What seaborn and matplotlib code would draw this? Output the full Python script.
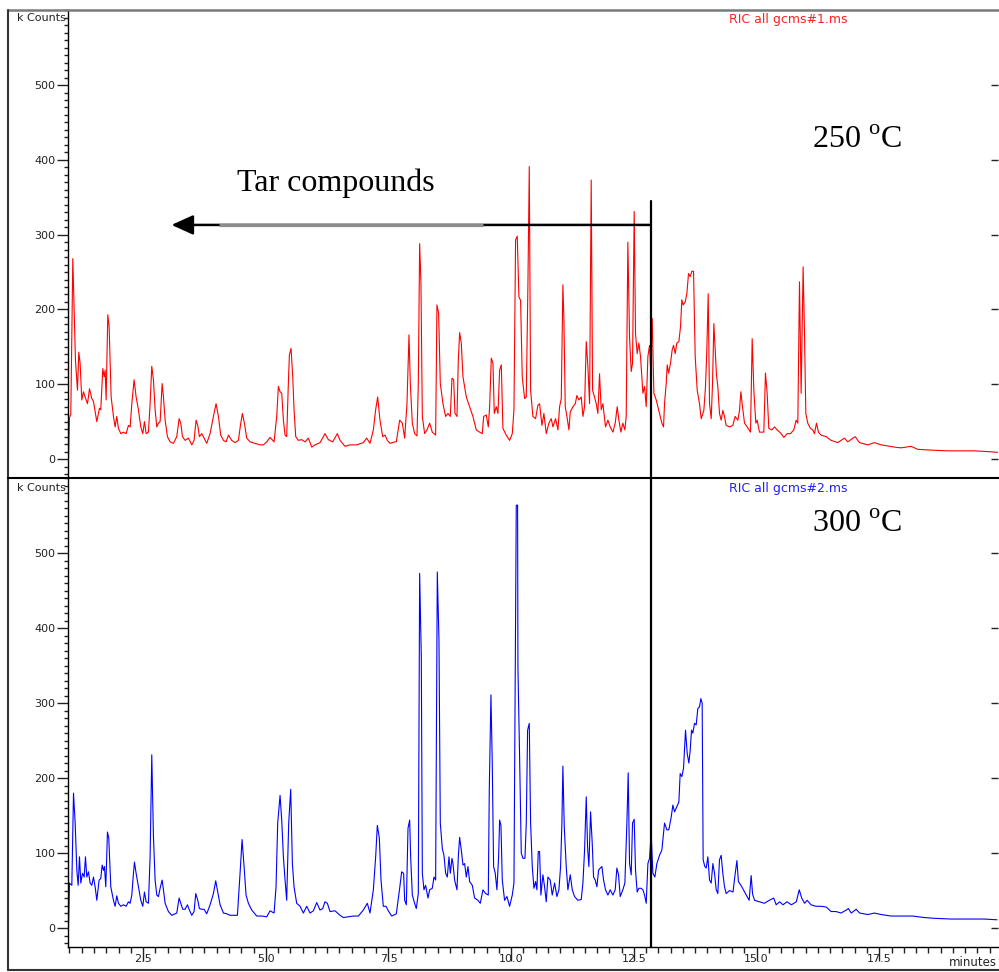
import matplotlib
matplotlib.use("Agg")
import matplotlib.pyplot as plt
import seaborn as sns
import pandas as pd
from matplotlib.ticker import MultipleLocator, FixedLocator, FormatStrFormatter
from matplotlib.lines import Line2D

# ---------------- data (minutes, kCounts) ----------------
t250 = [0.98, 1.00, 1.027, 1.068, 1.095, 1.122, 1.163, 1.190, 1.217, 1.251, 1.285, 1.319, 1.367, 1.408,
        1.455, 1.489, 1.557, 1.611, 1.638, 1.679, 1.706, 1.727, 1.747, 1.781, 1.808, 1.849, 1.896,
        1.930, 1.964, 1.998, 2.046, 2.100, 2.154, 2.202, 2.236, 2.270, 2.317, 2.358, 2.405, 2.453,
        2.494, 2.528, 2.562, 2.609, 2.643, 2.677, 2.711, 2.745, 2.779, 2.813, 2.847, 2.888, 2.915,
        2.949, 2.996, 3.050, 3.118, 3.186, 3.234, 3.268, 3.302, 3.356, 3.424, 3.492, 3.539, 3.580,
        3.614, 3.648, 3.695, 3.743, 3.797, 3.865, 3.933, 3.987, 4.035, 4.082, 4.137, 4.191, 4.239,
        4.306, 4.374, 4.442, 4.490, 4.524, 4.564, 4.612, 4.680, 4.782, 4.883, 4.951, 5.019, 5.087,
        5.169, 5.223, 5.257, 5.291, 5.325, 5.359, 5.393, 5.426, 5.460, 5.481, 5.515, 5.549, 5.576,
        5.610, 5.664, 5.732, 5.800, 5.868, 5.936, 6.004, 6.105, 6.207, 6.275, 6.363, 6.458, 6.513,
        6.615, 6.716, 6.852, 6.988, 7.056, 7.124, 7.192, 7.239, 7.280, 7.327, 7.382, 7.429, 7.477,
        7.531, 7.633, 7.660, 7.728, 7.782, 7.830, 7.877, 7.918, 7.945, 7.986, 8.033, 8.081, 8.108,
        8.135, 8.162, 8.190, 8.237, 8.285, 8.339, 8.393, 8.461, 8.488, 8.522, 8.556, 8.610, 8.665,
        8.712, 8.760, 8.794, 8.828, 8.855, 8.896, 8.923, 8.950, 8.984, 9.018, 9.086, 9.154, 9.221,
        9.289, 9.357, 9.412, 9.439, 9.493, 9.534, 9.561, 9.595, 9.629, 9.656, 9.697, 9.731, 9.765,
        9.799, 9.832, 9.900, 9.968, 10.023, 10.057, 10.090, 10.124, 10.158, 10.192, 10.226, 10.274,
        10.308, 10.342, 10.369, 10.396, 10.443, 10.498, 10.545, 10.579, 10.627, 10.667, 10.715,
        10.769, 10.817, 10.851, 10.905, 10.953, 10.987, 11.021, 11.054, 11.075, 11.102, 11.136,
        11.177, 11.204, 11.258, 11.306, 11.340, 11.380, 11.428, 11.462, 11.496, 11.530, 11.564,
        11.598, 11.631, 11.659, 11.699, 11.733, 11.767, 11.801, 11.835, 11.869, 11.923, 11.971,
        12.018, 12.073, 12.120, 12.161, 12.195, 12.236, 12.276, 12.317, 12.344, 12.378, 12.412,
        12.446, 12.473, 12.507, 12.534, 12.568, 12.602, 12.636, 12.684, 12.718, 12.752, 12.786,
        12.820, 12.840, 12.874, 12.908, 12.956, 13.023, 13.071, 13.105, 13.125, 13.159, 13.180,
        13.207, 13.247, 13.281, 13.309, 13.342, 13.376, 13.417, 13.451, 13.478, 13.505, 13.546,
        13.580, 13.614, 13.648, 13.682, 13.716, 13.750, 13.791, 13.838, 13.872, 13.926, 13.960,
        13.987, 14.015, 14.042, 14.076, 14.103, 14.130, 14.157, 14.184, 14.211, 14.245, 14.279,
        14.313, 14.347, 14.381, 14.449, 14.517, 14.564, 14.619, 14.653, 14.680, 14.714, 14.755,
        14.809, 14.877, 14.911, 14.945, 14.985, 15.013, 15.060, 15.148, 15.182, 15.216, 15.250,
        15.311, 15.366, 15.420, 15.488, 15.556, 15.624, 15.691, 15.759, 15.807, 15.841, 15.875,
        15.909, 15.949, 15.977, 16.004, 16.044, 16.099, 16.146, 16.180, 16.221, 16.262, 16.316,
        16.418, 16.520, 16.655, 16.791, 16.859, 17.008, 17.097, 17.266, 17.402, 17.538, 17.810,
        17.945, 18.149, 18.285, 18.556, 18.896, 19.167, 19.439, 19.710, 19.910]
v250 = [0, 55, 60, 268, 199, 132, 92, 143, 128, 79, 90, 83, 74, 94,
        81, 77, 50, 68, 66, 121, 110, 119, 79, 193, 177, 83, 57,
        43, 57, 41, 34, 36, 34, 45, 43, 74, 106, 83, 66, 43,
        34, 50, 34, 36, 74, 124, 106, 66, 43, 48, 50, 101, 83,
        52, 30, 23, 21, 30, 54, 48, 30, 25, 28, 19, 25, 52,
        45, 30, 34, 28, 21, 34, 57, 74, 57, 32, 25, 23, 32,
        25, 22, 25, 48, 61, 48, 28, 23, 21, 19, 19, 23, 29,
        23, 57, 97, 90, 88, 52, 32, 30, 101, 139, 148, 110, 66,
        30, 25, 26, 23, 28, 16, 19, 22, 34, 26, 23, 34, 25,
        17, 19, 19, 22, 28, 21, 39, 66, 83, 52, 30, 32, 25,
        21, 23, 23, 52, 48, 28, 74, 166, 101, 48, 34, 31, 101,
        288, 235, 57, 34, 39, 48, 36, 32, 206, 195, 101, 74, 57,
        61, 57, 108, 106, 61, 57, 132, 169, 155, 110, 83, 70, 57,
        39, 36, 34, 57, 59, 43, 70, 135, 128, 61, 70, 61, 119,
        126, 41, 32, 25, 34, 66, 293, 298, 217, 212, 110, 81,
        83, 235, 391, 92, 57, 54, 72, 74, 45, 61, 34,
        48, 54, 43, 54, 39, 70, 81, 233, 186, 70, 57,
        39, 63, 70, 74, 85, 79, 83, 57, 70, 157, 123,
        74, 373, 92, 83, 74, 61, 114, 66, 74, 43, 52,
        43, 36, 48, 70, 52, 36, 48, 39, 57, 290, 163,
        117, 128, 331, 168, 141, 155, 137, 88, 97, 70, 137,
        152, 123, 188, 88, 79, 61, 48, 43, 74, 101, 126,
        115, 128, 146, 152, 141, 155, 157, 177, 213, 206, 210,
        221, 248, 244, 251, 251, 137, 92, 74, 54, 65, 97,
        146, 221, 74, 54, 101, 181, 146, 112, 97, 61, 52,
        65, 57, 45, 43, 45, 57, 52, 65, 90, 70, 48,
        43, 36, 161, 92, 48, 52, 36, 36, 115, 88, 41,
        39, 43, 39, 35, 29, 34, 34, 39, 52, 48, 237,
        88, 257, 168, 61, 48, 41, 39, 34, 48, 36, 32,
        30, 25, 22, 28, 23, 30, 22, 19, 22, 19, 16,
        15, 17, 13, 12, 11, 11, 11, 10, 9]

t300 = [0.98, 1.00, 1.048, 1.082, 1.116, 1.150, 1.177, 1.204, 1.231, 1.265, 1.299, 1.326, 1.353, 1.387,
        1.421, 1.455, 1.489, 1.523, 1.557, 1.604, 1.638, 1.666, 1.693, 1.713, 1.740, 1.774, 1.801,
        1.842, 1.896, 1.930, 1.964, 1.998, 2.046, 2.100, 2.154, 2.202, 2.236, 2.270, 2.304, 2.324,
        2.358, 2.405, 2.453, 2.494, 2.528, 2.562, 2.609, 2.643, 2.677, 2.711, 2.745, 2.779, 2.813,
        2.847, 2.888, 2.915, 2.949, 3.016, 3.084, 3.186, 3.234, 3.268, 3.308, 3.356, 3.403, 3.444,
        3.492, 3.539, 3.573, 3.614, 3.648, 3.695, 3.743, 3.797, 3.865, 3.933, 3.980, 4.014, 4.069,
        4.137, 4.205, 4.272, 4.374, 4.422, 4.476, 4.517, 4.558, 4.598, 4.646, 4.714, 4.816, 4.917,
        5.019, 5.087, 5.169, 5.209, 5.243, 5.291, 5.325, 5.359, 5.393, 5.426, 5.467, 5.508, 5.542,
        5.576, 5.630, 5.698, 5.766, 5.834, 5.902, 5.970, 6.038, 6.105, 6.160, 6.207, 6.255, 6.309,
        6.411, 6.513, 6.581, 6.683, 6.784, 6.886, 6.988, 7.069, 7.124, 7.192, 7.239, 7.273, 7.314,
        7.348, 7.395, 7.450, 7.497, 7.565, 7.660, 7.728, 7.769, 7.809, 7.830, 7.864, 7.898, 7.932,
        7.952, 7.986, 8.033, 8.067, 8.108, 8.135, 8.169, 8.190, 8.223, 8.257, 8.305, 8.339, 8.393,
        8.427, 8.461, 8.495, 8.529, 8.556, 8.597, 8.631, 8.665, 8.699, 8.733, 8.760, 8.794, 8.814,
        8.848, 8.896, 8.923, 8.950, 8.984, 9.018, 9.052, 9.086, 9.120, 9.154, 9.208, 9.255, 9.323,
        9.371, 9.425, 9.479, 9.534, 9.554, 9.588, 9.615, 9.642, 9.676, 9.710, 9.744, 9.765, 9.792,
        9.819, 9.866, 9.914, 9.968, 10.023, 10.057, 10.084, 10.104, 10.131, 10.138, 10.172, 10.206,
        10.240, 10.281, 10.308, 10.335, 10.369, 10.396, 10.430, 10.464, 10.498, 10.525, 10.552,
        10.579, 10.606, 10.647, 10.681, 10.715, 10.749, 10.796, 10.837, 10.885, 10.932, 10.973,
        11.007, 11.034, 11.054, 11.082, 11.122, 11.156, 11.204, 11.245, 11.292, 11.360, 11.428,
        11.462, 11.496, 11.530, 11.557, 11.584, 11.618, 11.652, 11.679, 11.713, 11.747, 11.781,
        11.815, 11.849, 11.883, 11.923, 11.971, 12.018, 12.073, 12.120, 12.154, 12.188, 12.222,
        12.276, 12.317, 12.358, 12.385, 12.412, 12.446, 12.473, 12.507, 12.534, 12.568, 12.602,
        12.650, 12.684, 12.718, 12.752, 12.786, 12.820, 12.853, 12.887, 12.928, 12.969, 13.023,
        13.071, 13.125, 13.173, 13.213, 13.261, 13.295, 13.329, 13.376, 13.417, 13.444, 13.478,
        13.512, 13.553, 13.587, 13.621, 13.648, 13.675, 13.702, 13.736, 13.770, 13.804, 13.838,
        13.865, 13.892, 13.912, 13.946, 13.974, 14.008, 14.042, 14.076, 14.110, 14.144, 14.178,
        14.211, 14.245, 14.279, 14.313, 14.347, 14.381, 14.45, 14.52, 14.56, 14.60, 14.63, 14.70,
        14.79, 14.85, 14.89, 14.92, 14.96, 15.06, 15.16, 15.26, 15.35, 15.40, 15.47, 15.54, 15.62,
        15.71, 15.81, 15.87, 15.92, 15.98, 16.03, 16.11, 16.21, 16.32, 16.42, 16.52, 16.62, 16.72,
        16.83, 16.87, 16.93, 17.03, 17.10, 17.27, 17.40, 17.54, 17.74, 17.95, 18.18, 18.42, 18.62,
        18.96, 19.30, 19.64, 19.90]
v300 = [0, 60, 57, 180, 140, 77, 57, 95, 60, 73, 68, 95, 68, 75,
        60, 57, 68, 55, 37, 64, 66, 84, 77, 82, 55, 128, 120,
        55, 37, 29, 43, 33, 29, 31, 29, 35, 33, 44, 73, 88,
        73, 55, 37, 29, 48, 35, 33, 95, 231, 122, 64, 44, 42,
        53, 64, 51, 33, 22, 17, 20, 40, 33, 25, 25, 31, 24,
        17, 22, 46, 37, 26, 25, 25, 19, 31, 46, 63, 51, 31,
        20, 19, 17, 17, 17, 73, 118, 82, 44, 33, 24, 16, 16,
        15, 23, 20, 55, 140, 177, 144, 95, 64, 37, 140, 185, 86,
        55, 33, 29, 20, 29, 20, 23, 34, 24, 26, 35, 33, 22,
        23, 17, 14, 15, 16, 16, 24, 33, 20, 51, 95, 137, 120,
        64, 29, 29, 23, 16, 19, 53, 75, 73, 37, 31, 133, 144,
        95, 44, 33, 26, 46, 473, 362, 73, 51, 57, 40, 51, 53,
        68, 64, 475, 384, 140, 106, 97, 73, 68, 95, 73, 93, 86,
        64, 51, 95, 121, 104, 84, 86, 68, 82, 62, 57, 40, 37,
        33, 51, 46, 44, 184, 311, 220, 82, 73, 51, 95, 144, 137,
        64, 37, 42, 29, 44, 60, 362, 564, 564, 348, 228, 100,
        93, 93, 140, 264, 273, 140, 82, 53, 62, 51, 102,
        102, 44, 71, 55, 35, 68, 64, 44, 60, 42, 51,
        82, 140, 216, 135, 82, 51, 71, 51, 42, 37, 38,
        60, 104, 175, 108, 82, 155, 113, 68, 64, 55, 77,
        80, 82, 64, 51, 44, 51, 44, 51, 80, 71, 42,
        51, 60, 140, 207, 86, 71, 140, 145, 77, 48, 53,
        53, 51, 44, 33, 86, 93, 126, 73, 68, 86, 97,
        104, 140, 131, 131, 148, 164, 155, 162, 168, 206, 202,
        213, 264, 233, 220, 237, 264, 260, 273, 271, 293, 295,
        306, 300, 91, 82, 80, 95, 64, 60, 86, 73, 51,
        46, 91, 97, 73, 55, 46, 50, 48, 70, 90, 62, 55,
        44, 37, 70, 45, 37, 35, 33, 37, 40, 31, 35, 31, 35,
        31, 35, 51, 40, 33, 37, 31, 29, 29, 28, 22, 22, 20,
        24, 26, 20, 25, 20, 18, 20, 18, 16, 16, 16, 14, 13,
        12, 12, 12, 11]

y_ticks = [0, 100, 200, 300, 400, 500]
x_ticks = [2.5, 5.0, 7.5, 10.0, 12.5, 15.0, 17.5]
cut_time = 12.84
arrow_end = 3.08
arrow_level = 313
line_top = 345

df250 = pd.DataFrame({"minutes": t250, "kCounts": v250})
df300 = pd.DataFrame({"minutes": t300, "kCounts": v300})

# ---------------- style ----------------
sns.set_theme(style="white")
plt.rcParams["font.family"] = ["DejaVu Sans"]
plt.rcParams["mathtext.fontset"] = "custom"
plt.rcParams["mathtext.rm"] = "Liberation Serif"

W, H = 999, 972
fig = plt.figure(figsize=(W / 100, H / 100), dpi=100)
fig.patch.set_facecolor("white")

ax1 = fig.add_axes([68 / W, (H - 478) / H, 930 / W, 468 / H])
ax2 = fig.add_axes([68 / W, (H - 947) / H, 930 / W, 469 / H])

sns.lineplot(data=df250, x="minutes", y="kCounts", ax=ax1, color="#ff0000",
             linewidth=0.8, sort=False, estimator=None)
sns.lineplot(data=df300, x="minutes", y="kCounts", ax=ax2, color="#0000ff",
             linewidth=0.8, sort=False, estimator=None)

for ax in (ax1, ax2):
    ax.set_facecolor("white")
    ax.set_xlim(0.97, 19.92)
    ax.set_ylim(-25.3, 600.3)
    ax.set_xlabel("")
    ax.set_ylabel("")
    ax.yaxis.set_major_locator(FixedLocator(y_ticks))
    ax.yaxis.set_minor_locator(MultipleLocator(10))
    ax.tick_params(axis="y", which="major", direction="out", length=8, width=1,
                   left=True, labelsize=8, pad=1, colors="#222222")
    ax.tick_params(axis="y", which="minor", direction="out", length=3, width=1,
                   left=True, color="#222222")
    for s in ("top", "right"):
        ax.spines[s].set_visible(False)
    ax.spines["left"].set_color("black")
    ax.spines["left"].set_linewidth(1.0)
    sec = ax.secondary_yaxis("right")
    sec.set_yticks(y_ticks)
    sec.tick_params(direction="in", length=5, width=1, labelright=False, colors="#222222")
    sec.spines["right"].set_visible(False)

ax1.spines["bottom"].set_visible(False)
ax1.tick_params(axis="x", which="both", bottom=False, labelbottom=False)

ax2.spines["bottom"].set_color("black")
ax2.spines["bottom"].set_linewidth(1.0)
ax2.xaxis.set_major_locator(FixedLocator(x_ticks))
ax2.xaxis.set_minor_locator(MultipleLocator(0.25))
ax2.xaxis.set_major_formatter(FormatStrFormatter("%.1f"))
ax2.tick_params(axis="x", which="major", direction="out", length=10, width=1,
                bottom=True, labelsize=8, pad=-5, colors="#222222")
ax2.tick_params(axis="x", which="minor", direction="out", length=4, width=1,
                bottom=True, color="#222222")

# arrow + vertical divider line
ax1.annotate("", xy=(arrow_end, arrow_level), xytext=(cut_time, arrow_level),
             arrowprops=dict(arrowstyle="-|>,head_length=1.1,head_width=0.5",
                             color="black", lw=1.8, shrinkA=0, shrinkB=0))
ax1.plot([4.05, 9.43], [arrow_level, arrow_level], color="#8c8c8c", lw=2.3,
         solid_capstyle="butt", zorder=6)
ax1.plot([cut_time, cut_time], [line_top, -25.3], color="black", lw=1.6, clip_on=False)
ax2.axvline(cut_time, color="black", lw=1.6)

# texts
serif = ["Liberation Serif", "DejaVu Serif"]
fig.text(237 / W, (H - 183) / H, "Tar compounds", family=serif, fontsize=23,
         ha="left", va="center", color="black")
fig.text(812 / W, (H - 140) / H, r"250 $^{\mathrm{o}}$C", family=serif, fontsize=23,
         ha="left", va="center", color="black")
fig.text(812 / W, (H - 524) / H, r"300 $^{\mathrm{o}}$C", family=serif, fontsize=23,
         ha="left", va="center", color="black")

fig.text(66 / W, (H - 18) / H, "k Counts", fontsize=8, ha="right", va="center", color="#222222")
fig.text(66 / W, (H - 488) / H, "k Counts", fontsize=8, ha="right", va="center", color="#222222")
fig.text(729 / W, (H - 19) / H, "RIC all gcms#1.ms", fontsize=9, ha="left", va="center",
         color="#ff2020")
fig.text(729 / W, (H - 488) / H, "RIC all gcms#2.ms", fontsize=9, ha="left", va="center",
         color="#2020ff")
fig.text(997 / W, (H - 962) / H, "minutes", fontsize=8.5, ha="right", va="center",
         color="#222222")

# outer frame and panel divider
def fline(x0, y0, x1, y1, color="black", lw=1.5):
    fig.add_artist(Line2D([x0 / W, x1 / W], [(H - y0) / H, (H - y1) / H],
                          transform=fig.transFigure, color=color, lw=lw))

fline(8, 10, 999, 10, color="#7a7a7a", lw=1.8)
fline(8, 10, 8, 970, color="#333333", lw=1.5)
fline(8, 970, 999, 970, color="#333333", lw=1.5)
fline(8, 478, 999, 478, color="black", lw=1.5)

fig.savefig("out.png", dpi=100, facecolor="white")
